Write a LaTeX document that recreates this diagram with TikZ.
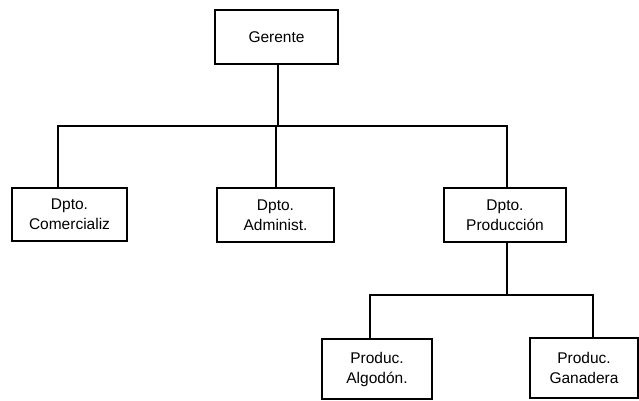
\documentclass[tikz,border=0pt]{standalone}
\usepackage{fontspec}
\setmainfont{Liberation Sans}
\begin{document}
\begin{tikzpicture}[x=1pt,y=-1pt,
  box/.style={draw, line width=1.6pt, inner sep=0pt, align=center,
    font=\fontsize{15.5}{20}\selectfont},
  conn/.style={line width=1.6pt}]
\useasboundingbox (0,0) rectangle (639,401);
\node[box, minimum width=123pt, minimum height=54pt] (G) at (276.5,37) {Gerente};
\node[box, minimum width=115pt, minimum height=53pt] (C) at (69.5,214.5) {Dpto.\\Comercializ};
\node[box, minimum width=117pt, minimum height=54pt] (A) at (275.5,215) {Dpto.\\Administ.};
\node[box, minimum width=122pt, minimum height=54pt] (P) at (505,215) {Dpto.\\Producción};
\node[box, minimum width=110pt, minimum height=60pt] (Al) at (377,369) {Produc.\\Algodón.};
\node[box, minimum width=108pt, minimum height=60pt] (Ga) at (584,368) {Produc.\\Ganadera};
\coordinate (jG) at (278,126);
\coordinate (jC) at (58,126);
\coordinate (jA) at (276,126);
\coordinate (jP) at (507,126);
\coordinate (kP) at (507,295);
\coordinate (kAl) at (370,295);
\coordinate (kGa) at (593,295);
\draw[conn] (G.south -| jG) -- (jG);
\draw[conn] (C.north -| jC) -- (jC) -- (jP) -- (P.north -| jP);
\draw[conn] (A.north -| jA) -- (jA);
\draw[conn] (P.south -| kP) -- (kP);
\draw[conn] (Al.north -| kAl) -- (kAl) -- (kGa) -- (Ga.north -| kGa);
\end{tikzpicture}
\end{document}
